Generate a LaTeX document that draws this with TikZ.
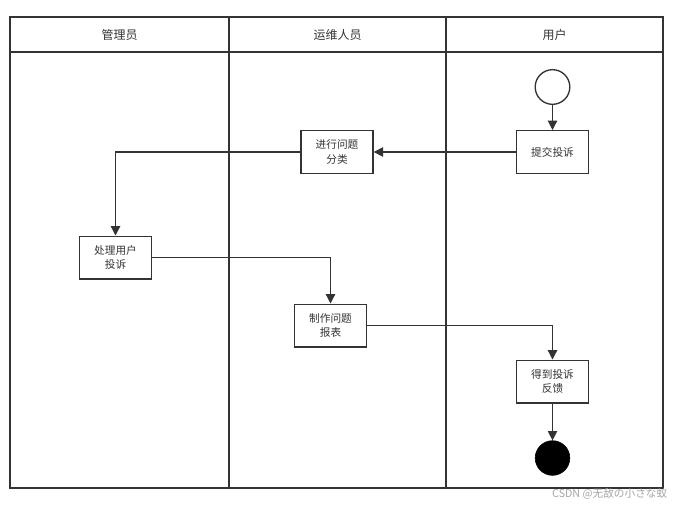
\documentclass[tikz,border=0pt]{standalone}
\usepackage{fontspec}
\setmainfont{Noto Sans CJK SC}
\usetikzlibrary{arrows.meta}
\definecolor{linec}{HTML}{333333}
\definecolor{textc}{HTML}{333333}
\tikzset{
  lane/.style={draw=linec, line width=1.2pt},
  act/.style={draw=linec, line width=1pt, fill=white, minimum width=54pt, minimum height=32pt, inner sep=1pt, align=center, font=\fontsize{8}{11}\selectfont, text=textc},
  head/.style={font=\fontsize{9}{11}\selectfont, text=textc},
  flow/.style={draw=linec, line width=0.9pt, -{Triangle[length=7pt,width=7pt]}},
}
\begin{document}
\begin{tikzpicture}[x=0.75pt,y=-0.75pt]
\useasboundingbox (0,0) rectangle (680,508);
\fill[white] (0,0) rectangle (680,508);
% lanes
\draw[lane] (10,17) rectangle (663,488);
\draw[lane] (10,52) -- (663,52);
\draw[lane] (229,17) -- (229,488);
\draw[lane] (446,17) -- (446,488);
\node[head] (h1) at (119.5,34.5) {管理员};
\node[head] (h2) at (337.5,34.5) {运维人员};
\node[head] (h3) at (554.5,34.5) {用户};
% nodes
\node[circle, draw=linec, line width=1pt, fill=white, minimum size=26pt, inner sep=0pt] (start) at (552.5,87) {};
\node[act] (submit) at (552.5,152) {提交投诉};
\node[act] (classify) at (337,152) {进行问题\\分类};
\node[act] (handle) at (115.5,257.5) {处理用户\\投诉};
\node[act] (report) at (330.5,325.5) {制作问题\\报表};
\node[act] (feedback) at (552.5,381.5) {得到投诉\\反馈};
\node[circle, fill=black, draw=black, minimum size=26pt, inner sep=0pt] (end) at (552.5,458) {};
% flows
\draw[flow] (start) -- (submit);
\draw[flow] (submit) -- (classify);
\draw[flow] (classify.west) -| (handle.north);
\draw[flow] (handle.east) -| (report.north);
\draw[flow] (report.east) -| (feedback.north);
\draw[flow] (feedback) -- (end);
% watermark
\node[font=\fontsize{8}{9}\selectfont, text=black!35, anchor=east] (wm) at (672,494) {CSDN @无敌の小さな蚁};
\end{tikzpicture}
\end{document}
